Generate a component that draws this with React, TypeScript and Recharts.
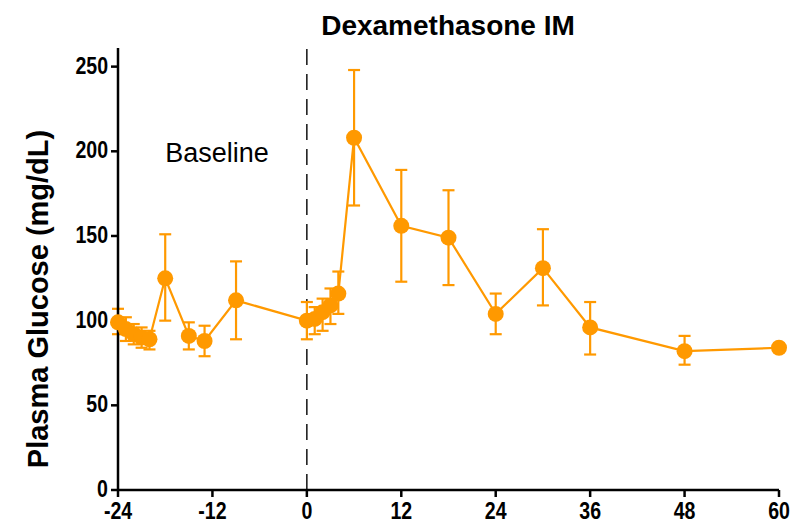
import { ComposedChart, Line, XAxis, YAxis, ErrorBar, ReferenceLine } from 'recharts';

// Plasma glucose (mg/dL) vs hours relative to dexamethasone IM
const HOURS = [-24, -23, -22, -21, -20, -18, -15, -13, -9, 0, 1, 2, 3, 4, 6, 12, 18, 24, 30, 36, 48, 60];
const GLUCOSE = [99, 95, 92, 90, 89, 125, 91, 88, 112, 100, 101, 105, 109, 116, 208, 156, 149, 104, 131, 96, 82, 84];
const ERR_LOW = [92, 88, 86, 84, 83, 100, 83, 79, 89, 89, 92, 94, 98, 104, 168, 123, 121, 92, 109, 80, 74, 84];
const ERR_HIGH = [107, 102, 98, 96, 94, 151, 99, 97, 135, 111, 108, 113, 119, 129, 248, 189, 177, 116, 154, 111, 91, 84];

const X_TICKS = [-24, -12, 0, 12, 24, 36, 48, 60];
const Y_TICKS = [0, 50, 100, 150, 200, 250];

const ORANGE = '#FF9900';
const FONT = '"Liberation Sans", Arial, sans-serif';

const data = HOURS.map((h, i) => ({
  hour: h,
  glucose: GLUCOSE[i],
  err: [GLUCOSE[i] - ERR_LOW[i], ERR_HIGH[i] - GLUCOSE[i]],
}));

// condensed bold tick labels (Prism style), squeezed horizontally
function XTick({ x, y, payload }: any) {
  return (
    <text
      transform={`translate(${x},${y + 22}) scale(0.85,1)`}
      textAnchor="middle"
      fontFamily={FONT}
      fontWeight="bold"
      fontSize={23}
      fill="#000"
    >
      {payload.value}
    </text>
  );
}

function YTick({ x, y, payload }: any) {
  return (
    <text
      transform={`translate(${x},${y + 7}) scale(0.85,1)`}
      textAnchor="end"
      fontFamily={FONT}
      fontWeight="bold"
      fontSize={23}
      fill="#000"
    >
      {payload.value}
    </text>
  );
}

export default function App() {
  return (
    <div style={{ position: 'absolute', left: 0, top: 0, width: 794, height: 525, background: '#fff' }}>
      <ComposedChart
        width={794}
        height={525}
        data={data}
        margin={{ top: 48, right: 15, bottom: 5, left: 0 }}
      >
        <XAxis
          type="number"
          dataKey="hour"
          domain={[-24, 60]}
          ticks={X_TICKS}
          interval={0}
          height={30}
          axisLine={{ stroke: '#000', strokeWidth: 2.5 }}
          tickLine={{ stroke: '#000', strokeWidth: 2.5 }}
          tickSize={7}
          tickMargin={0}
          tick={<XTick />}
        />
        <YAxis
          type="number"
          domain={[0, 261]}
          ticks={Y_TICKS}
          interval={0}
          width={118}
          axisLine={{ stroke: '#000', strokeWidth: 2.5 }}
          tickLine={{ stroke: '#000', strokeWidth: 2.5 }}
          tickSize={7}
          tickMargin={3}
          tick={<YTick />}
        />
        <ReferenceLine
          x={0}
          stroke="#000"
          strokeWidth={1.4}
          strokeDasharray="16 9"
          ifOverflow="visible"
        />
        <Line
          type="linear"
          dataKey="glucose"
          stroke={ORANGE}
          strokeWidth={2.2}
          dot={{ r: 8, fill: ORANGE, stroke: ORANGE, strokeWidth: 0 }}
          activeDot={false}
          isAnimationActive={false}
        >
          <ErrorBar dataKey="err" direction="y" width={6} stroke={ORANGE} strokeWidth={2.2} />
        </Line>
        <text x={448} y={35} textAnchor="middle" fontFamily={FONT} fontWeight="bold" fontSize={28} fill="#000">
          Dexamethasone IM
        </text>
        <text x={217} y={162} textAnchor="middle" fontFamily={FONT} fontSize={27} fill="#000">
          Baseline
        </text>
        <text
          x={38}
          y={299}
          transform="rotate(-90 38 299)"
          textAnchor="middle"
          dominantBaseline="central"
          fontFamily={FONT}
          fontWeight="bold"
          fontSize={29}
          fill="#000"
        >
          Plasma Glucose (mg/dL)
        </text>
      </ComposedChart>
    </div>
  );
}
